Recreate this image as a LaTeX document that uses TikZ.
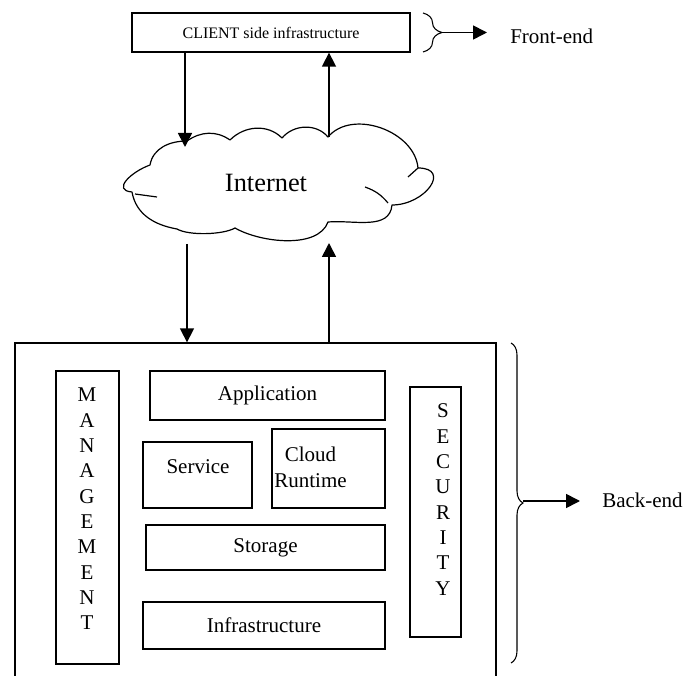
\documentclass[tikz,border=0pt]{standalone}
\usepackage{fontspec}
\setmainfont{Liberation Serif}
\usetikzlibrary{arrows.meta,decorations.pathreplacing}
\begin{document}
\begin{tikzpicture}[x=0.75pt,y=0.75pt,
  box/.style={draw,line width=1pt,inner sep=0pt},
  lbl/.style={inner sep=0pt,font=\fontsize{15.75}{19}\selectfont},
  arr/.style={line width=1.2pt,-{Triangle[width=10.5pt,length=10.5pt]}},
  brc/.style={line width=0.8pt,decorate,decoration={brace,amplitude=#1}},
  cloudline/.style={line width=0.9pt,line join=round}]
\useasboundingbox (0,0) rectangle (699,675);

% front end
\node[box,minimum width=208.5pt,minimum height=29.25pt,font=\fontsize{12}{14}\selectfont] (client) at (271,675-32.5) {CLIENT side infrastructure};

% cloud
\draw[cloudline] (150,675-165)
 to[out=80,in=180] (187,675-141)
 to[out=35,in=145] (230,675-140)
 to[out=45,in=135] (282,675-138)
 to[out=50,in=130] (328,675-137)
 to[out=50,in=95] (418,675-168)
 to[out=0,in=0,looseness=1.9] (392,675-205)
 to[out=-95,in=5] (328,675-222)
 to[out=-110,in=-30,looseness=0.8] (235,675-228)
 to[out=-150,in=-30,looseness=0.6] (177,675-229)
 to[out=170,in=-80] (132,675-192)
 to[out=175,in=-160,looseness=1.6] cycle;
\draw[cloudline] (365,675-187) to[bend left=15] (388,675-203);
\draw[cloudline] (408,675-177) -- (418,675-168);
\draw[cloudline] (135,675-194) -- (157,675-197);
\node[inner sep=0pt,font=\fontsize{19.8}{24}\selectfont] (internet) at (266,675-183) {Internet};

% back end
\node[box,minimum width=360.75pt,minimum height=260.25pt] (backend) at (255.5,675-516.5) {};
\node[box,minimum width=47.25pt,minimum height=219.75pt] (mgmt) at (87.5,675-517.5) {};
\node[lbl,align=center] (mgmttxt) at (87,675-509) {M\\A\\N\\A\\G\\E\\M\\E\\N\\T};
\node[box,minimum width=176.25pt,minimum height=36.75pt,font=\fontsize{15.75}{19}\selectfont] (app) at (267.5,675-395.5) {Application};
\node[box,minimum width=81.75pt,minimum height=49.5pt] (service) at (197.5,675-475) {};
\node[lbl] (servtxt) at (198,675-467) {Service};
\node[box,minimum width=84.75pt,minimum height=59.25pt] (runtime) at (328.5,675-468.5) {};
\node[lbl,align=center,font=\fontsize{15.75}{19.5}\selectfont] (rttxt) at (310.5,675-467) {Cloud\\Runtime};
\node[box,minimum width=179.25pt,minimum height=33.75pt,font=\fontsize{15.75}{19}\selectfont] (storage) at (265.5,675-547.5) {Storage};
\node[box,minimum width=181.5pt,minimum height=35.25pt,font=\fontsize{15.75}{19}\selectfont] (infra) at (264,675-625.5) {Infrastructure};
\node[box,minimum width=38.25pt,minimum height=187.5pt] (security) at (435.5,675-512) {};
\node[lbl,align=center] (sectxt) at (443,675-499.5) {S\\E\\C\\U\\R\\I\\T\\Y};

% connectors
\coordinate (ct1) at (185,675-147);
\coordinate (ct2) at (329,675-137);
\coordinate (cb1) at (187,675-244);
\coordinate (cb2) at (329,675-243);
\draw[arr] (client.south -| ct1) -- (ct1);
\draw[arr] (ct2) -- (ct2 |- client.south);
\draw[arr] (cb1) -- (cb1 |- backend.north);
\draw[arr] (backend.north -| cb2) -- (cb2);

% braces and labels
\draw[brc=14.25pt] (423,675-13) -- (423,675-52);
\coordinate (fbtip) at (442,675-32.5);
\coordinate (fbend) at (487,675-32.5);
\draw[arr] (fbtip) -- (fbend);
\node[lbl,anchor=base west] (fe) at (510,675-44) {Front-end};

\draw[brc=9pt] (511,675-343) -- (511,675-663);
\coordinate (bbtip) at (523,675-501);
\coordinate (bbend) at (580,675-501);
\draw[arr] (bbtip) -- (bbend);
\node[lbl,anchor=base west] (be) at (602,675-507) {Back-end};
\end{tikzpicture}
\end{document}
